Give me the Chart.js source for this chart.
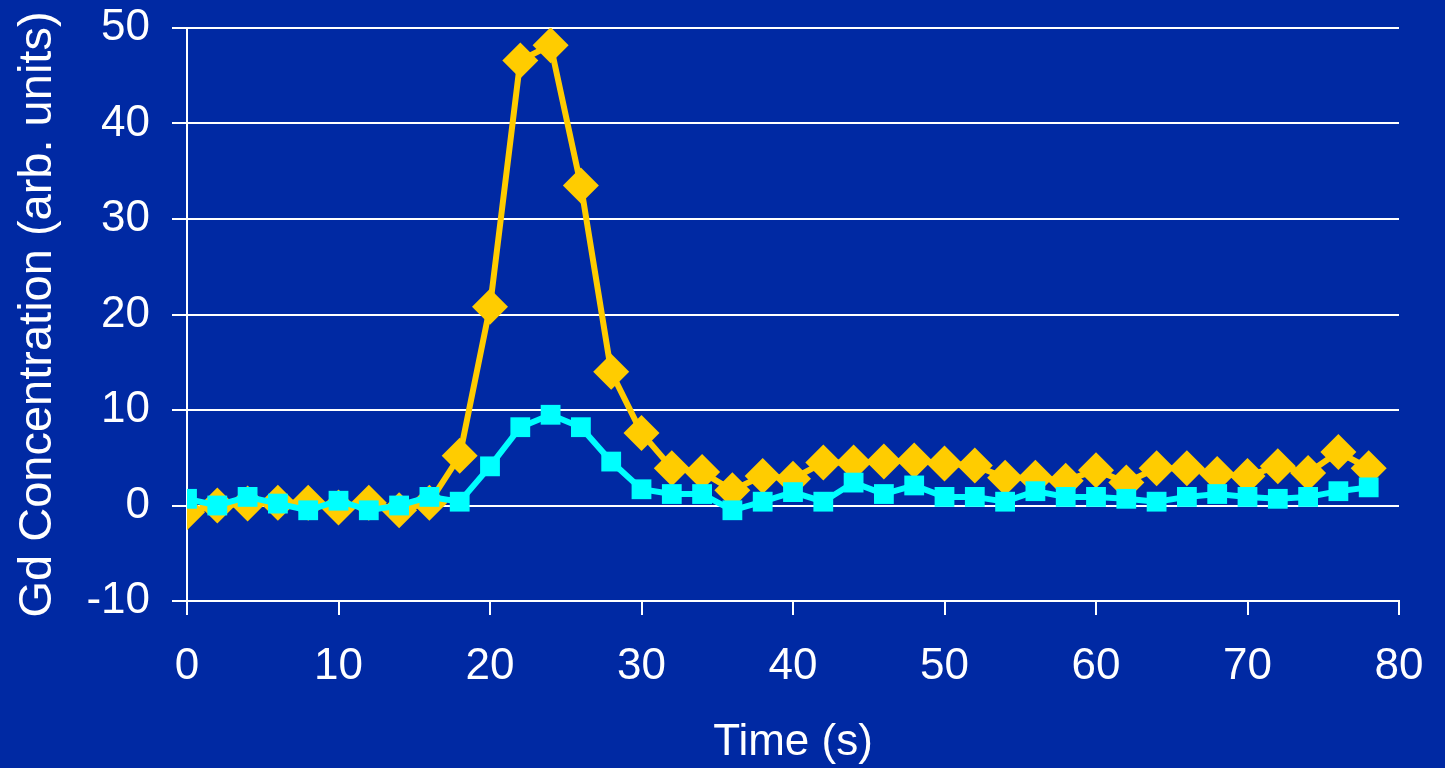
<!DOCTYPE html>
<html>
<head>
<meta charset="utf-8">
<script src="https://cdn.jsdelivr.net/npm/chart.js@4"></script>
<style>
  html, body { margin: 0; padding: 0; background: #0029A3; overflow: hidden; }
  #wrap { position: relative; width: 1445px; height: 768px; }
</style>
</head>
<body>
<div id="wrap"><canvas id="gdChart" width="1445" height="768"></canvas></div>
<script>
// time axis (s)
const times = [0, 2, 4, 6, 8, 10, 12, 14, 16, 18, 20, 22, 24, 26, 28, 30, 32, 34, 36, 38,
               40, 42, 44, 46, 48, 50, 52, 54, 56, 58, 60, 62, 64, 66, 68, 70, 72, 74, 76, 78];

// yellow diamonds
const arterial = [-0.7, 0, 0.2, 0.3, 0.3, -0.2, 0.3, -0.5, 0.3, 5.2, 20.8, 46.6, 48.2, 33.5, 14.0, 7.6, 3.9, 3.5, 1.6, 3.1,
                  2.8, 4.5, 4.5, 4.6, 4.7, 4.4, 4.2, 2.9, 2.9, 2.6, 3.7, 2.4, 3.9, 3.9, 3.3, 3.1, 4.1, 3.4, 5.6, 3.9];

// cyan squares
const tissue = [0.7, 0, 0.9, 0.2, -0.5, 0.5, -0.5, 0, 0.9, 0.4, 4.1, 8.2, 9.5, 8.2, 4.6, 1.7, 1.2, 1.2, -0.5, 0.4,
                1.4, 0.4, 2.4, 1.2, 2.1, 0.9, 0.9, 0.4, 1.5, 0.9, 0.9, 0.7, 0.4, 0.9, 1.2, 0.9, 0.7, 0.9, 1.5, 1.9];

const xTicks = [0, 10, 20, 30, 40, 50, 60, 70, 80];
const yTicks = [-10, 0, 10, 20, 30, 40, 50];

const toPoints = vals => times.map((t, i) => ({ x: t, y: vals[i] }));

const fontFam = '"Liberation Sans", Arial, sans-serif';

const ctx = document.getElementById('gdChart').getContext('2d');
new Chart(ctx, {
    type: 'line',
    data: {
        datasets: [
            {
                label: 'Artery',
                data: toPoints(arterial),
                borderColor: '#FFCC00',
                backgroundColor: '#FFCC00',
                borderWidth: 6,
                pointStyle: 'rectRot',
                pointRadius: 18,
                pointBorderWidth: 0,
                tension: 0,
                order: 2
            },
            {
                label: 'Tissue',
                data: toPoints(tissue),
                borderColor: '#00FFFF',
                backgroundColor: '#00FFFF',
                borderWidth: 6,
                pointStyle: 'rect',
                pointRadius: 14,
                pointBorderWidth: 0,
                tension: 0,
                order: 1
            }
        ]
    },
    options: {
        responsive: false,
        animation: false,
        devicePixelRatio: 1,
        layout: { padding: { top: 28, right: 46, left: 0, bottom: 0 } },
        plugins: {
            legend: { display: false },
            tooltip: { enabled: false }
        },
        scales: {
            x: {
                type: 'linear',
                min: 0,
                max: 80,
                afterBuildTicks: s => { s.ticks = xTicks.map(v => ({ value: v })); },
                afterFit: s => { s.height = 167; s.paddingLeft = 0; s.paddingRight = 0; },
                grid: { drawOnChartArea: false, color: '#FFFFFF', lineWidth: 2, tickLength: 14 },
                border: { color: '#FFFFFF', width: 2 },
                ticks: { color: '#FFFFFF', font: { family: fontFam, size: 44 }, padding: 25, maxRotation: 0 },
                title: { display: true, text: 'Time (s)', color: '#FFFFFF', font: { family: fontFam, size: 44 }, padding: { top: 0, bottom: -1 } }
            },
            y: {
                min: -10,
                max: 50,
                afterBuildTicks: s => { s.ticks = yTicks.map(v => ({ value: v })); },
                afterFit: s => { s.width = 187; s.paddingTop = 0; s.paddingBottom = 0; },
                grid: { color: '#FFFFFF', lineWidth: 2, tickLength: 15 },
                border: { color: '#FFFFFF', width: 2 },
                ticks: { color: '#FFFFFF', font: { family: fontFam, size: 44 }, padding: 22 },
                title: { display: true, text: 'Gd Concentration (arb. units)', color: '#FFFFFF', font: { family: fontFam, size: 47 }, padding: { top: 10 } }
            }
        }
    }
});
</script>
</body>
</html>
